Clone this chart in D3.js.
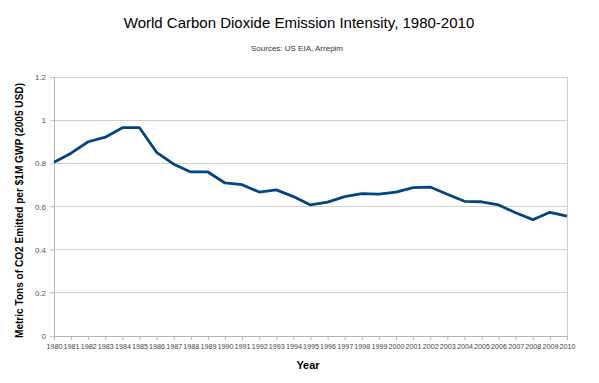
<!DOCTYPE html>
<html><head><meta charset="utf-8">
<script src="https://cdn.jsdelivr.net/npm/d3@7"></script>
<style>body{margin:0;background:#fff;} svg{display:block;}</style>
</head><body>
<svg id="c" width="599" height="383"></svg>
<script>
const years = [1980,1981,1982,1983,1984,1985,1986,1987,1988,1989,1990,1991,1992,1993,1994,1995,1996,1997,1998,1999,2000,2001,2002,2003,2004,2005,2006,2007,2008,2009,2010];
const intensity = [0.805,0.847,0.900,0.921,0.965,0.965,0.851,0.796,0.760,0.760,0.709,0.701,0.667,0.677,0.646,0.607,0.620,0.646,0.660,0.657,0.667,0.687,0.690,0.657,0.624,0.622,0.607,0.571,0.539,0.573,0.555];
const yTicks = [0,0.2,0.4,0.6,0.8,1,1.2];

const svg = d3.select("#c");
const m = {l:54, r:32, t:77, b:47};
const W = 599, H = 383;
const x = d3.scalePoint().domain(years).range([m.l, W - m.r]);
const y = d3.scaleLinear().domain([0,1.2]).range([H - m.b, m.t]);
const font = "'Liberation Sans', Arial, sans-serif";

// gridlines
svg.append("g").selectAll("line").data(yTicks).join("line")
  .attr("x1", m.l - 4).attr("x2", W - m.r)
  .attr("y1", d => y(d)).attr("y2", d => y(d))
  .attr("stroke", "#cfcfcf").attr("stroke-width", 1).attr("shape-rendering","crispEdges");
// right border
svg.append("line").attr("x1", W - m.r).attr("x2", W - m.r).attr("y1", m.t).attr("y2", H - m.b)
  .attr("stroke", "#cfcfcf").attr("shape-rendering","crispEdges");

// y axis
const ya = svg.append("g").attr("transform", `translate(${m.l},0)`)
  .call(d3.axisLeft(y).tickValues(yTicks).tickSize(4).tickFormat(d => d3.format("")(d)));
ya.select(".domain").attr("stroke", "#b3b3b3");
ya.selectAll(".tick line").attr("stroke", "#cfcfcf");
ya.selectAll("text").attr("font-family", font).attr("font-size", 8).attr("fill", "#555").attr("dx", "-1");

// x axis
const xa = svg.append("g").attr("transform", `translate(0,${H - m.b})`)
  .call(d3.axisBottom(x).tickSize(4).tickSizeOuter(0).tickPadding(3));
xa.select(".domain").attr("stroke", "#b3b3b3");
xa.selectAll(".tick line").attr("stroke", "#b3b3b3");
xa.selectAll("text").attr("font-family", font).attr("font-size", 8).attr("fill", "#444")
  .attr("textLength", 16).attr("lengthAdjust", "spacingAndGlyphs");

// line
svg.append("path").datum(intensity)
  .attr("fill", "none").attr("stroke", "#004586").attr("stroke-width", 2.8)
  .attr("stroke-linejoin", "round")
  .attr("d", d3.line().x((d,i) => x(years[i])).y(d => y(d)));

// titles
svg.append("text").attr("x", 299).attr("y", 28).attr("text-anchor", "middle")
  .attr("font-family", font).attr("font-size", 15).attr("fill", "#000")
  .text("World Carbon Dioxide Emission Intensity, 1980-2010");
svg.append("text").attr("x", 297).attr("y", 51).attr("text-anchor", "middle")
  .attr("font-family", font).attr("font-size", 8).attr("fill", "#333")
  .text("Sources: US EIA, Arrepim");
svg.append("text").attr("x", 308).attr("y", 369).attr("text-anchor", "middle")
  .attr("font-family", font).attr("font-size", 11).attr("font-weight", "bold")
  .text("Year");
svg.append("text").attr("transform", `translate(23,210.5) rotate(-90)`).attr("text-anchor", "middle")
  .attr("font-family", font).attr("font-size", 11).attr("font-weight", "bold")
  .attr("textLength", 255).attr("lengthAdjust", "spacingAndGlyphs")
  .text("Metric Tons of CO2 Emitted per $1M GWP (2005 USD)");
</script>
</body></html>
